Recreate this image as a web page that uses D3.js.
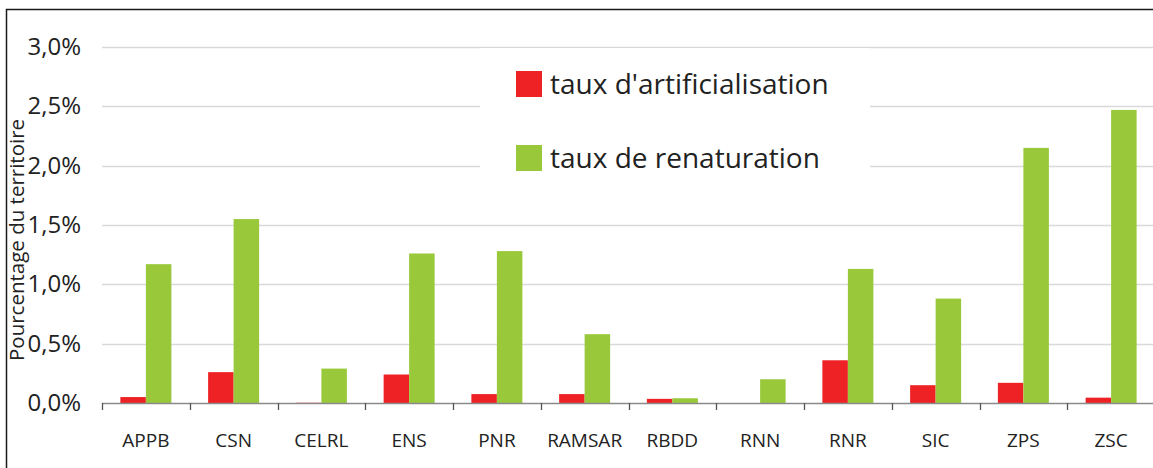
<!DOCTYPE html>
<html>
<head>
<meta charset="utf-8">
<script src="https://cdn.jsdelivr.net/npm/d3@7/dist/d3.min.js"></script>
<style>
  html, body { margin: 0; padding: 0; background: #fff; }
  svg { display: block; }
  text { font-family: "Open Sans", Lato, sans-serif; fill: #222; }
</style>
</head>
<body>
<svg id="chart" width="1153" height="468"></svg>
<script>
const categories = ["APPB", "CSN", "CELRL", "ENS", "PNR", "RAMSAR", "RBDD", "RNN", "RNR", "SIC", "ZPS", "ZSC"];
const seriesNames = ["taux d'artificialisation", "taux de renaturation"];
const artificialisation = [0.0005, 0.0026, 0.00002, 0.0024, 0.00075, 0.00075, 0.00035, 0.0, 0.0036, 0.0015, 0.0017, 0.00045];
const renaturation = [0.0117, 0.0155, 0.0029, 0.0126, 0.0128, 0.0058, 0.0004, 0.002, 0.0113, 0.0088, 0.0215, 0.0247];
const yTicks = [0, 0.005, 0.01, 0.015, 0.02, 0.025, 0.03];
const colors = ["#ee2225", "#99c93b"];

const svg = d3.select("#chart");
const W = 1153, H = 468;
const mLeft = 102, mRight = 1155, mTop = 47, mBottom = 403;

const locale = d3.formatLocale({decimal: ",", thousands: " ", grouping: [3], currency: ["", " €"], percent: "%"});
const fmt = locale.format(".1%");

const x = d3.scaleBand().domain(categories).range([mLeft, mRight]).padding(0);
const x1 = d3.scaleBand().domain(seriesNames).range([-25.5, 25.5]).padding(0);
const y = d3.scaleLinear().domain([0, 0.03]).range([mBottom, mTop]);

// outer frame (top + left)
svg.append("path").attr("d", `M6.5,${H} V9.5 H${W}`).attr("fill", "none").attr("stroke", "#1a1a1a").attr("stroke-width", 1.5);

// gridlines
svg.append("g").selectAll("line").data(yTicks.slice(1)).join("line")
  .attr("x1", mLeft).attr("x2", W)
  .attr("y1", d => Math.round(y(d)) + 0.5).attr("y2", d => Math.round(y(d)) + 0.5)
  .attr("stroke", "#d9d9d9").attr("stroke-width", 1.3);

// y labels
svg.append("g").selectAll("text").data(yTicks).join("text")
  .attr("x", 81).attr("y", d => y(d)).attr("dy", "0.34em")
  .attr("text-anchor", "end").attr("font-size", 24)
  .text(d => fmt(d));

// y title
svg.append("text")
  .attr("transform", `translate(24,240) rotate(-90)`)
  .attr("text-anchor", "middle").attr("font-size", 20.5)
  .text("Pourcentage du territoire");

// bars
const data = categories.map((c, i) => ({cat: c, vals: [artificialisation[i], renaturation[i]]}));
const groups = svg.append("g").selectAll("g").data(data).join("g")
  .attr("transform", d => `translate(${x(d.cat) + x.bandwidth() / 2},0)`);
groups.selectAll("rect").data(d => d.vals.map((v, j) => ({s: seriesNames[j], v, j}))).join("rect")
  .attr("x", d => x1(d.s)).attr("width", x1.bandwidth())
  .attr("y", d => y(d.v)).attr("height", d => y(0) - y(d.v))
  .attr("fill", d => colors[d.j]);

// x axis
const xAxis = svg.append("g").attr("transform", `translate(0,${mBottom})`);
xAxis.append("line").attr("x1", mLeft).attr("x2", W).attr("y1", 0.5).attr("y2", 0.5)
  .attr("stroke", "#8a8a8a").attr("stroke-width", 1.5);
xAxis.selectAll("line.tick").data(categories).join("line").attr("class", "tick")
  .attr("x1", d => Math.round(x(d)) + 0.5).attr("x2", d => Math.round(x(d)) + 0.5)
  .attr("y1", 0).attr("y2", 7).attr("stroke", "#555").attr("stroke-width", 1.3);
xAxis.selectAll("text").data(categories).join("text")
  .attr("x", d => x(d) + x.bandwidth() / 2).attr("y", 44)
  .attr("text-anchor", "middle").attr("font-size", 19)
  .text(d => d);

// legend
const lg = svg.append("g");
lg.append("rect").attr("x", 480).attr("y", 48).attr("width", 390).attr("height", 150).attr("fill", "#fff");
const legY = [84, 158];
seriesNames.forEach((s, i) => {
  lg.append("rect").attr("x", 516).attr("y", legY[i] - 13).attr("width", 26).attr("height", 26).attr("fill", colors[i]);
  lg.append("text").attr("x", 550).attr("y", legY[i]).attr("dy", "0.36em").attr("font-size", 28).text(s);
});
</script>
</body>
</html>
